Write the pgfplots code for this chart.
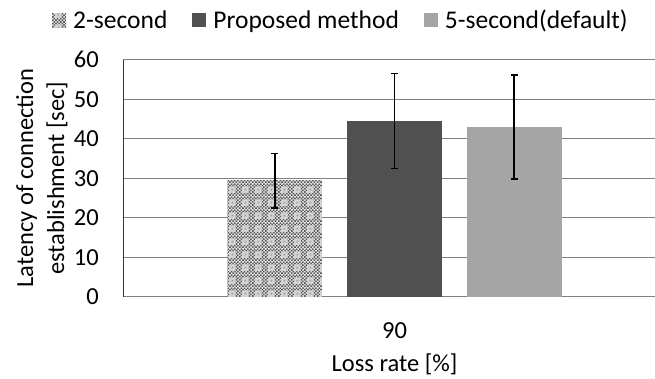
\documentclass[border=0pt]{standalone}
\usepackage{fontspec}
\setmainfont{Carlito}
\usepackage{pgfplots}
\pgfplotsset{compat=1.18}
\usetikzlibrary{patterns.meta}
\newcommand{\cf}{\fontsize{24.5}{31}\selectfont}
\newcommand{\lf}{\fontsize{25.5}{31}\selectfont}
\tikzdeclarepattern{
  name=checky,
  type=colored,
  bottom left={(0pt,0pt)},
  top right={(13.3pt,13.3pt)},
  tile size={(13.3pt,13.3pt)},
  code={
    \fill[white!80!gray] (0pt,0pt) rectangle (13.3pt,13.3pt);
    \foreach \i in {0,2,4,6}{\foreach \j in {0,2,4,6}{
      \fill[black!65] (\i*1.6625pt,\j*1.6625pt) rectangle ++(1.6625pt,1.6625pt);
      \fill[black!65] ({(\i+1)*1.6625pt},{(\j+1)*1.6625pt}) rectangle ++(1.6625pt,1.6625pt);
    }}
    \fill[gray!35] (3.3pt,3.3pt) rectangle (10pt,10pt);
    \fill[gray!80] (5.8pt,5.8pt) rectangle (7.5pt,7.5pt);
  }
}
\definecolor{darkbar}{HTML}{505050}
\definecolor{lightbar}{HTML}{A5A5A5}
\definecolor{gridc}{HTML}{808080}
\begin{document}
\begin{tikzpicture}
\useasboundingbox (-123.3pt,-82.3pt) rectangle (531.7pt,296.7pt);
\begin{axis}[
  scale only axis,
  width=531.7pt, height=237pt,
  at={(0pt,0pt)}, anchor=south west,
  ybar=25.3pt, bar width=94.5pt,
  xmin=-271.2, xmax=260.5,
  ymin=0, ymax=60,
  ytick={0,10,...,60},
  xtick={0}, xticklabels={90},
  major tick length=0pt,
  ymajorgrids,
  grid style={gridc, line width=1.2pt},
  axis x line*=bottom, axis y line*=left,
  x axis line style={-, gridc, line width=1.2pt},
  y axis line style={-, black!80, line width=1.2pt},
  /pgf/number format/assume math mode=true,
  yticklabel style={font=\cf, anchor=east, inner sep=0pt, xshift=-24.3pt},
  xticklabel style={font=\cf, anchor=north, inner sep=0pt, yshift=-25.3pt},
  ylabel={Latency of connection\\establishment [sec]},
  ylabel style={font=\cf, align=center, at={(axis description cs:-0.2018,0.5)}, anchor=north, inner sep=0pt, rotate=0},
  xlabel={Loss rate [\%]},
  xlabel style={font=\cf, at={(axis description cs:0.510,-0.3165)}, anchor=base, inner sep=0pt},
  legend columns=3,
  legend style={font=\lf, draw=none, fill=none, inner sep=0pt,
    at={(axis description cs:-0.134,1.2097)}, anchor=north west,
    nodes={inner sep=0pt},
    /tikz/every odd column/.append style={column sep=7pt},
    /tikz/every even column/.append style={column sep=25pt}},
  legend image code/.code={\fill[#1] (0pt,-7pt) rectangle (14pt,7pt);},
  error bars/y dir=both, error bars/y explicit,
  error bars/error bar style={black, line width=1.7pt},
  error bars/error mark options={black, line width=1.5pt, rotate=90, mark size=3.3pt},
]
\addplot[draw=none, pattern=checky] coordinates {(0,29.3) +- (0,6.9)};
\addplot[draw=none, fill=darkbar] coordinates {(0,44.5) +- (0,12.0)};
\addplot[draw=none, fill=lightbar] coordinates {(0,43.0) +- (0,13.15)};
\legend{2-second, Proposed method, 5-second(default)}
\end{axis}
\end{tikzpicture}
\end{document}
